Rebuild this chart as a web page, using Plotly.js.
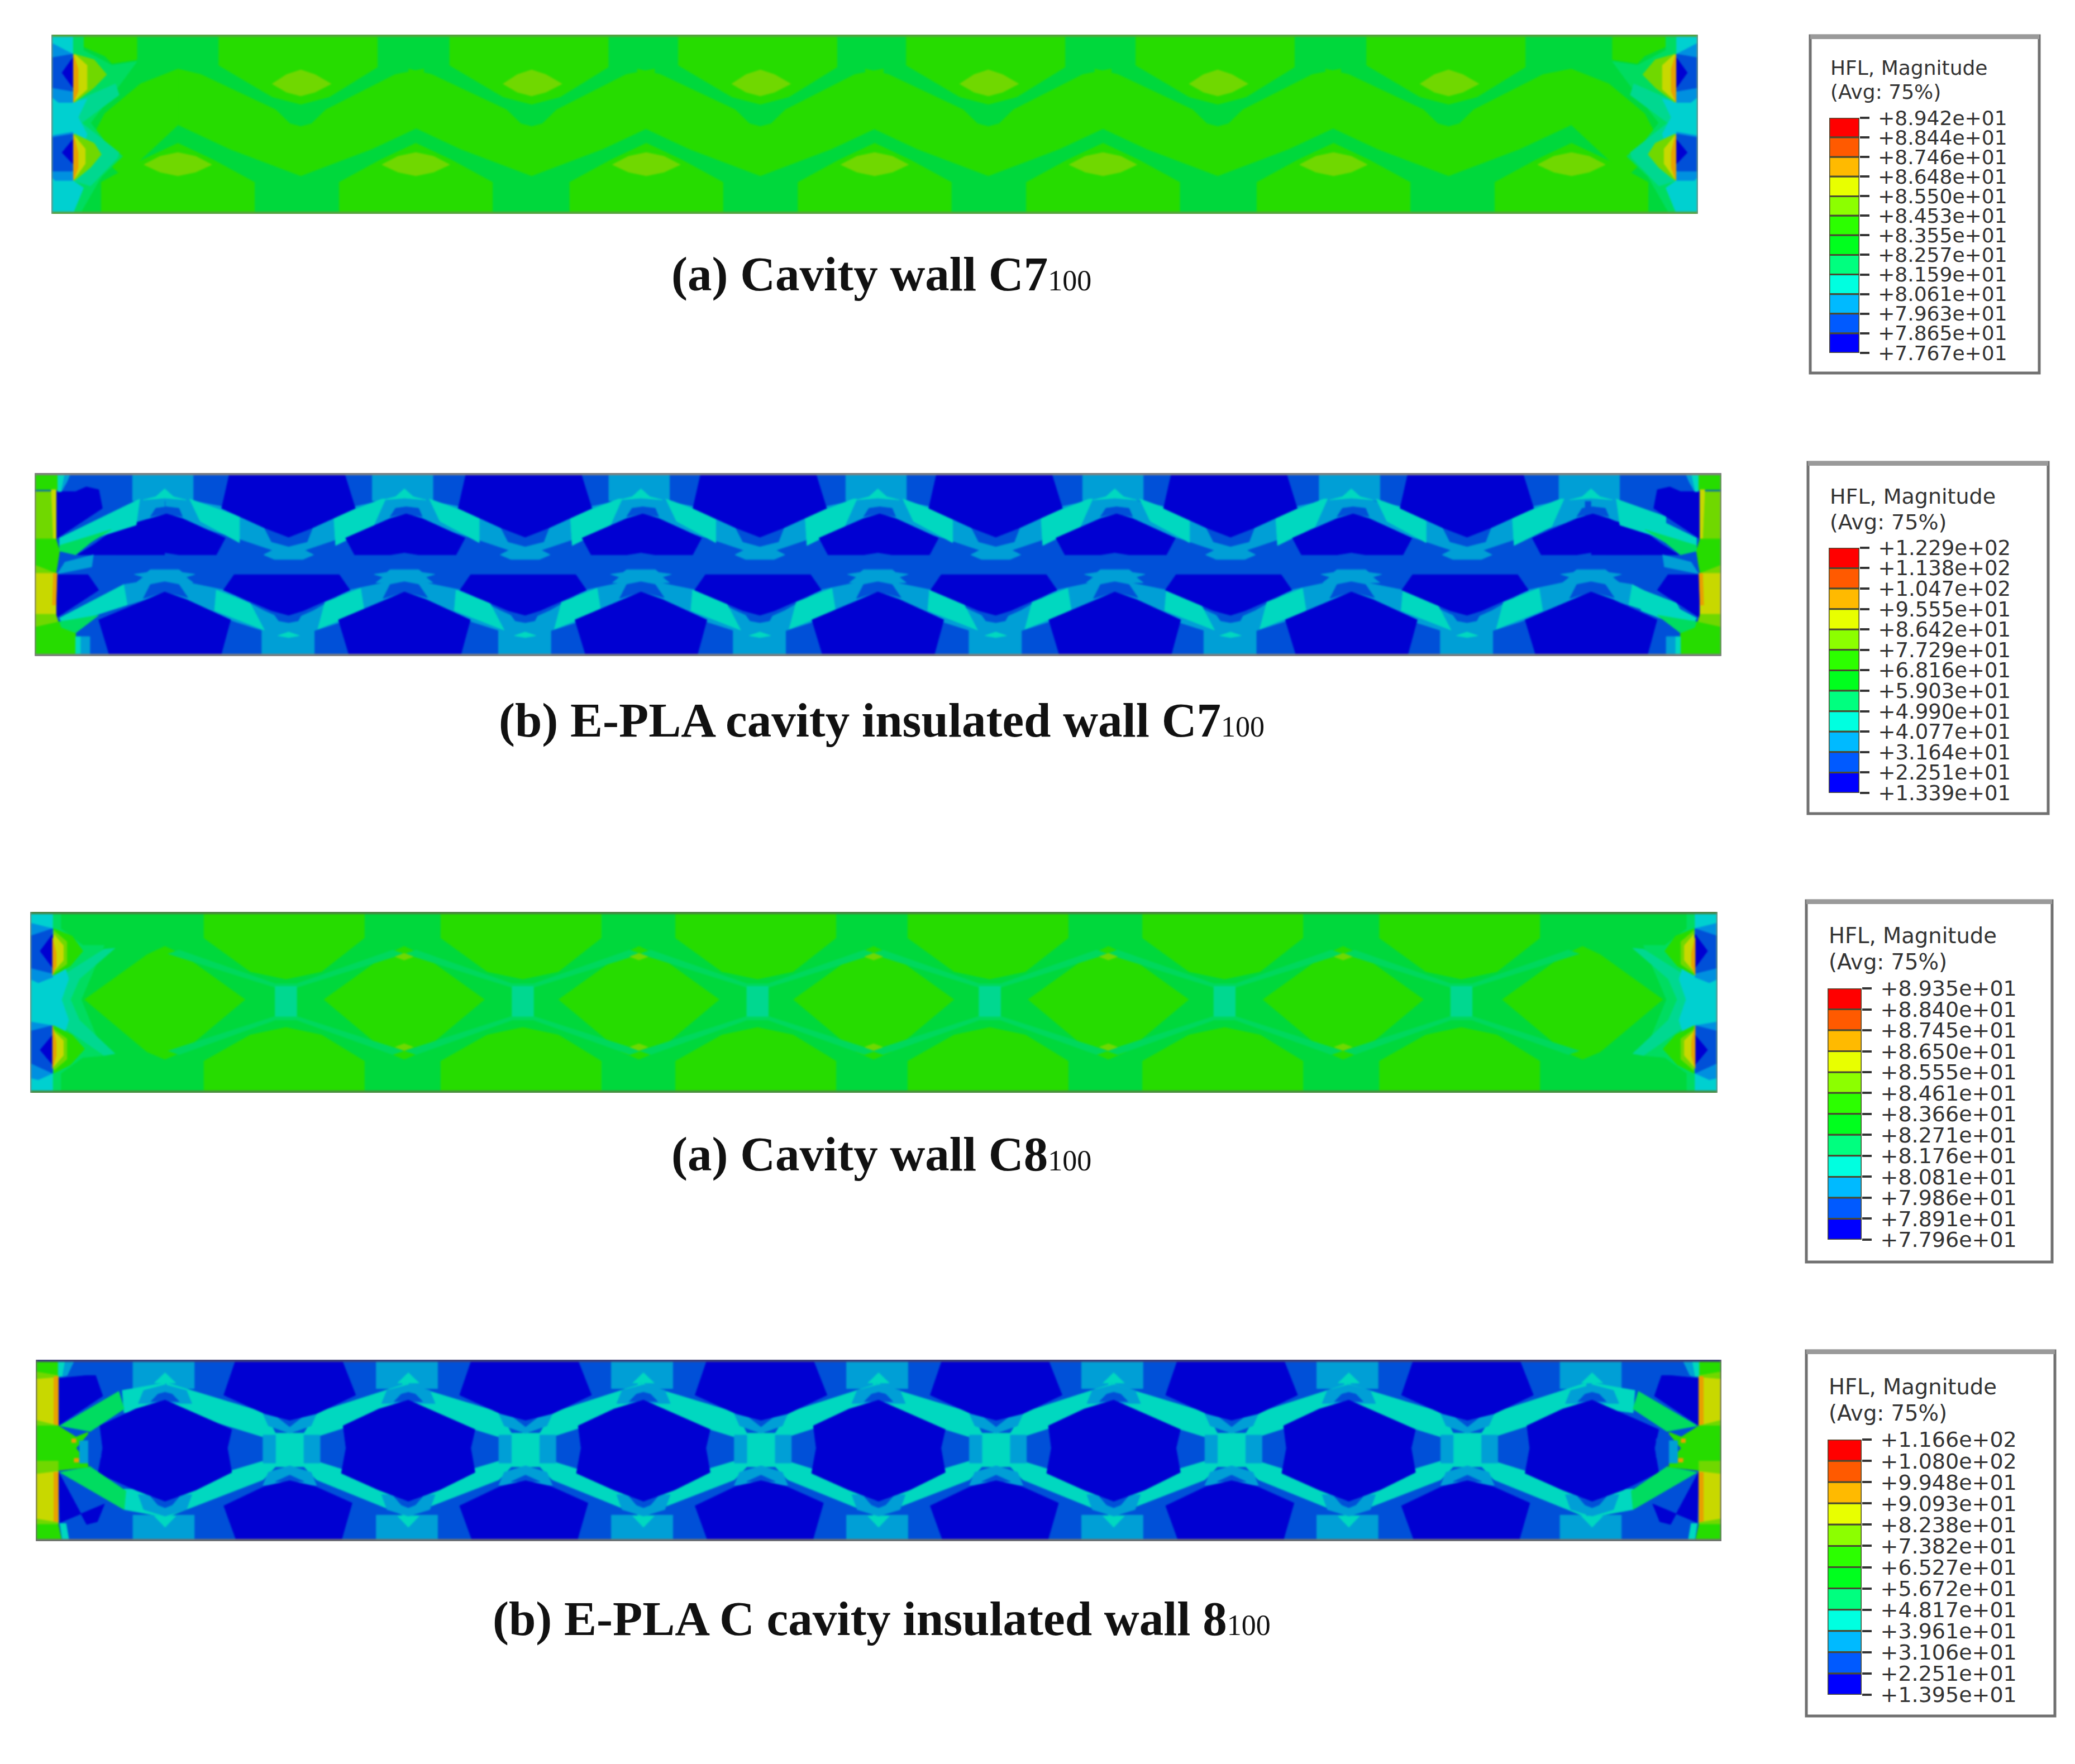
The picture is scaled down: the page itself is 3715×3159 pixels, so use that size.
<!DOCTYPE html>
<html><head><meta charset="utf-8">
<script src="https://cdn.plot.ly/plotly-3.0.1.min.js"></script>
<style>html,body{margin:0;padding:0;background:#fff}</style></head>
<body><div id="chart" style="width:3715px;height:3159px"></div>
<script>
// Band colours of the contour plots as seen in the picture
const colors={dark:'#0000d2',blue:'#0050d8',light:'#009fd6',teal:'#00d8c0',tg:'#00dc60',tc:'#00d890',g3:'#00d85c',g1:'#00d83c',g2:'#26dc00',
 lime:'#70d800',yel:'#c8d800',org:'#e8a000',red:'#e05000',cyan:'#00d0d0',sky:'#0090e0'};
const legendColors=['#ff0000','#ff5a00','#ffba00','#e8ff00','#8cff00','#2cff00','#00ff1e','#00ff7f','#00ffe0','#00baff','#005aff','#0000ff'];

// Legend labels
const labels1=['+8.942e+01','+8.844e+01','+8.746e+01','+8.648e+01','+8.550e+01','+8.453e+01','+8.355e+01','+8.257e+01','+8.159e+01','+8.061e+01','+7.963e+01','+7.865e+01','+7.767e+01'];
const labels2=['+1.229e+02','+1.138e+02','+1.047e+02','+9.555e+01','+8.642e+01','+7.729e+01','+6.816e+01','+5.903e+01','+4.990e+01','+4.077e+01','+3.164e+01','+2.251e+01','+1.339e+01'];
const labels3=['+8.935e+01','+8.840e+01','+8.745e+01','+8.650e+01','+8.555e+01','+8.461e+01','+8.366e+01','+8.271e+01','+8.176e+01','+8.081e+01','+7.986e+01','+7.891e+01','+7.796e+01'];
const labels4=['+1.166e+02','+1.080e+02','+9.948e+01','+9.093e+01','+8.238e+01','+7.382e+01','+6.527e+01','+5.672e+01','+4.817e+01','+3.961e+01','+3.106e+01','+2.251e+01','+1.395e+01'];

// Positions of the web crests and troughs in each wall (wall units)
const peaks1=[405,1073,1720,2361,3002,3649,4317], troughs1=[750,1398,2040,2680,3324,3972];
const peaks2=[400,1073,1737,2402,3067,3731,4404], troughs2=[748,1412,2071,2733,3392,4056];
const peaks3=[400,1072,1731,2390,3049,3708,4380], troughs3=[740,1405,2064,2716,3375,4040];
const peaks4=[400,1083,1743,2403,3063,3723,4406], troughs4=[750,1412,2073,2733,3394,4056];

// Contour regions: [band, anchor, xs, ys]; anchor p = at each crest, t = at each trough, q = inner crests, e = wall end (and its mirror), a = whole wall
const wall1=[
 ['g1','a',[50,4672,4672,50],[65,65,1030,1030]],
 ['g2','t',[-230,215,215,80,0,-80,-230],[65,65,240,400,440,400,230]],
 ['g2','t',[-345,-280,-70,-30,0,30,70,265,345,345,200,0,-200,-345],[250,280,470,545,560,545,470,280,250,550,680,825,680,550]],
 ['g2','p',[-215,215,215,100,0,-100,-215],[1030,1030,860,740,650,740,860]],
 ['g2','e',[406,300,200,170,190,250,406],[250,330,490,600,720,830,550]],
 ['g2','e',[140,290,290,220,200,140],[65,65,200,220,180,130]],
 ['lime','t',[-80,-40,0,40,85,40,0,-40],[330,280,255,280,330,375,395,375]],
 ['lime','p',[-95,-50,0,50,95,50,0,-50],[765,720,700,720,765,805,825,805]],
 ['tg','e',[110,140,140,220,290,240,200,160,200,250,190,130,110],[65,65,150,230,210,340,440,540,640,720,830,1030,1030]],
 ['tc','e',[110,230,240,135,240,235,160,110],[430,330,390,540,700,730,880,850]],
 ['cyan','e',[50,110,110,150,125,150,110,140,110,50],[65,65,430,410,510,600,850,890,1030,1030]],
 ['sky','e',[50,110,110,70,50],[110,170,430,430,400]],
 ['sky','e',[50,110,110,60,50],[610,590,850,850,830]],
 ['blue','e',[50,110,110,50],[190,170,370,350]],
 ['blue','e',[50,110,110,50],[620,600,800,800]],
 ['dark','e',[80,110,110],[270,190,350]],
 ['dark','e',[80,110,110],[700,630,760]],
 ['lime','e',[115,170,205,170,115],[170,200,280,350,430]],
 ['lime','e',[115,170,190,160,115],[600,650,710,780,850]],
 ['yel','e',[115,150,150,115],[170,230,360,420]],
 ['yel','e',[115,145,145,115],[610,680,760,840]],
 ['org','e',[112,125,125,112],[170,250,370,430]],
 ['org','e',[112,125,125,112],[600,700,780,850]]
];
const wall2=[
 ['blue','a',[35,4770,4770,35],[50,50,1035,1035]],
 ['light','p',[-90,80,80,-90],[55,55,200,200]],
 ['light','t',[-75,72,72,-75],[890,890,1030,1030]],
 ['light','t',[-345,-188,-68,0,68,187,330,330,130,45,70,40,-40,-70,-45,-130,-345],[172,230,340,440,340,230,172,285,410,465,490,515,515,490,465,410,285]],
 ['light','t',[-345,-180,-70,0,70,170,330,330,150,60,-60,-150,-345],[615,680,790,850,790,680,615,700,850,905,905,850,700]],
 ['light','p',[-85,-50,-40,40,50,85,60,80,-80,-60],[595,585,570,570,585,595,610,640,640,610]],
 ['light','e',[320,400,400,320],[200,172,285,330]],
 ['light','e',[285,400,400,295],[650,615,700,760]],
 ['teal','p',[70,210,210,100],[190,285,425,310]],
 ['teal','t',[127,262,272,237,132],[290,190,190,340,440]],
 ['teal','p',[145,240,280,140],[680,750,895,790]],
 ['teal','t',[102,202,212,82],[745,670,790,890]],
 ['teal','p',[-25,0,25,60,0,-60],[178,135,178,195,185,195]],
 ['teal','t',[-30,0,30,0],[925,905,925,935]],
 ['blue','t',[-68,-48,0,52,67,0],[345,420,445,420,345,395]],
 ['blue','t',[-48,-28,0,27,42,0],[790,845,855,845,790,815]],
 ['blue','p',[-40,-25,5,40,50,0],[285,240,232,240,285,270]],
 ['blue','p',[-60,-40,0,40,65,0],[725,650,635,650,720,690]],
 ['dark','t',[-166,157,187,67,0,-68,-188],[55,55,240,345,395,345,240]],
 ['dark','p',[-140,-165,-40,5,50,170,145,40,0,-40],[490,400,295,270,295,400,490,490,478,490]],
 ['dark','t',[-153,142,172,42,0,-48,-183],[597,597,680,790,815,790,680]],
 ['dark','p',[-155,158,185,60,0,-50,-185],[1030,1030,840,730,690,730,840]],
 ['dark','e',[95,95,225,215,180,150],[150,405,240,140,125,150]],
 ['dark','e',[155,205,260,350,400,400],[490,430,350,300,280,490]],
 ['dark','e',[95,185,215,95],[597,597,680,830]],
 ['teal','e',[105,320,330,320,105],[400,200,190,330,460]],
 ['teal','e',[105,285,295,115],[830,650,760,870]],
 ['g2','e',[35,100,100,35],[50,50,140,140]],
 ['teal','e',[100,120,110,100],[55,55,150,150]],
 ['light','e',[120,135,125,110],[55,55,100,150]],
 ['lime','e',[35,95,95,35],[150,150,405,405]],
 ['yel','e',[82,95,95,88],[140,140,405,405]],
 ['g2','e',[35,95,105,95,35],[405,405,470,590,545]],
 ['lime','e',[35,95,95,35],[545,590,590,590]],
 ['yel','e',[35,95,95,35],[590,590,830,810]],
 ['org','e',[88,98,95,85],[590,590,760,760]],
 ['lime','e',[35,95,105,35],[810,810,880,880]],
 ['g2','e',[35,105,150,150,130,35],[880,850,910,1035,1035,1035]],
 ['tg','e',[105,250,195,150,105],[440,355,420,490,470]],
 ['tg','e',[105,215,150,110],[850,815,910,880]],
 ['light','e',[100,120,200,195,105],[590,530,490,555,590]],
 ['teal','e',[150,165,165,150],[930,930,1030,1030]],
 ['light','e',[165,190,190,165],[930,930,1030,1030]]
];
const wall3=[
 ['g1','a',[22,4759,4759,22],[40,40,1010,1010]],
 ['g2','t',[-230,220,220,100,0,-100,-230],[40,40,180,360,400,360,180]],
 ['g2','t',[-230,220,220,100,0,-100,-230],[1010,1010,840,700,660,700,840]],
 ['g2','p',[-225,-50,0,50,225,50,0,-50],[510,270,225,270,510,790,830,790]],
 ['g3','t',[-30,30,300,330,30,30,330,300,30,-30,-300,-330,-30,-30,-330,-300],[425,425,245,265,445,600,785,805,620,620,805,785,600,445,265,245]],
 ['lime','q',[-25,0,25,0],[280,262,280,298]],
 ['lime','q',[-25,0,25,0],[765,747,765,783]],
 ['tc','t',[-30,30,30,-30],[440,440,600,600]],
 ['tg','e',[85,108,108,170,230,165,230,170,108,108,85],[40,40,130,220,220,510,810,820,905,1010,1010]],
 ['tc','e',[110,230,260,160,135,160,260,230,110],[385,240,235,400,510,620,800,810,650]],
 ['cyan','e',[22,85,85,130,110,130,85,85,22],[40,40,130,400,510,620,905,1010,1010]],
 ['sky','e',[22,85,85,45,22],[100,130,390,420,400]],
 ['sky','e',[22,85,85,45,22],[630,650,905,940,930]],
 ['blue','e',[22,85,85,22],[170,130,370,340]],
 ['blue','e',[22,85,85,22],[680,650,905,850]],
 ['dark','e',[50,85,85],[250,160,340]],
 ['dark','e',[50,85,85],[780,700,860]],
 ['g2','e',[88,140,170,135,88],[130,170,250,330,380]],
 ['g2','e',[88,140,175,135,88],[650,700,775,860,905]],
 ['lime','e',[88,125,125,88],[140,200,320,370]],
 ['lime','e',[88,125,125,88],[670,720,830,890]],
 ['yel','e',[88,115,115,88],[160,220,300,360]],
 ['yel','e',[88,115,115,88],[680,730,810,870]],
 ['org','e',[85,95,95,85],[180,260,330,380]],
 ['org','e',[85,95,95,85],[650,740,810,880]]
];
const wall4=[
 ['blue','a',[37,4769,4769,37],[45,45,1020,1020]],
 ['light','p',[-90,82,82,-90],[50,50,200,200]],
 ['light','p',[-90,82,82,-90],[880,880,1015,1015]],
 ['teal','t',[-345,-70,-40,40,75,333,333,40,40,333,333,75,40,-40,-75,-345,-345,-40,-40,-345],[170,330,440,440,330,170,300,480,570,745,890,690,620,620,690,890,745,570,480,300]],
 ['teal','p',[-30,0,30],[170,115,170]],
 ['teal','p',[-30,0,30],[885,945,885]],
 ['teal','e',[280,400,400,285],[210,170,300,330]],
 ['teal','e',[285,400,400,285],[740,745,890,850]],
 ['light','p',[-75,-60,0,60,75],[280,210,180,210,280]],
 ['light','p',[-75,-60,0,60,75],[770,850,885,850,770]],
 ['light','t',[-75,-60,0,60,75],[335,400,440,400,335]],
 ['light','t',[-75,-60,0,60,75],[720,650,615,650,720]],
 ['light','t',[-75,-40,-40,-75],[450,450,600,600]],
 ['light','t',[40,85,85,40],[450,450,600,600]],
 ['blue','p',[-40,-20,0,20,40],[270,230,220,230,270]],
 ['blue','p',[-40,-20,0,20,40],[780,825,840,825,780]],
 ['blue','t',[-40,0,40],[345,405,345]],
 ['blue','t',[-40,0,40],[700,665,700]],
 ['dark','t',[-152,147,185,75,0,-70,-185],[50,50,235,335,370,335,235]],
 ['dark','p',[0,187,175,187,87,0,-83,-188,-175,-183,-83],[262,420,520,650,745,805,745,655,520,400,310]],
 ['dark','t',[-150,145,175,70,0,-70,-185],[1015,1015,815,725,695,725,830]],
 ['dark','e',[100,100,225,205,180],[145,400,240,130,130]],
 ['dark','e',[100,105,230,210,180],[645,920,820,915,930]],
 ['tg','e',[105,270,285,190],[400,215,310,430]],
 ['tg','e',[105,190,290,285],[650,620,750,850]],
 ['g2','e',[37,100,100,37],[50,50,130,130]],
 ['teal','e',[100,120,112,100],[50,50,135,135]],
 ['light','e',[120,145,125,112],[50,50,130,135]],
 ['lime','e',[37,100,100,37],[110,130,150,160]],
 ['yel','e',[37,100,100,37],[150,140,400,380]],
 ['org','e',[88,100,100,88],[135,135,400,400]],
 ['lime','e',[37,100,100,37],[370,400,470,470]],
 ['g2','e',[37,100,150,190,150,190,100,37],[400,400,460,430,520,620,640,650]],
 ['lime','e',[37,100,100,37],[590,590,650,680]],
 ['yel','e',[37,100,100,37],[660,645,920,900]],
 ['org','e',[88,100,100,88],[650,650,920,920]],
 ['lime','e',[37,100,100,37],[900,920,960,940]],
 ['g2','e',[37,100,110,37],[930,930,1020,1020]],
 ['teal','e',[105,122,130,112],[925,925,1015,1015]],
 ['org','e',[138,150,150,138],[470,470,490,490]],
 ['org','e',[145,158,158,145],[575,575,595,595]],
 ['light','e',[160,185,185,160],[480,480,600,600]],
 ['blue','e',[185,220,220,185],[430,470,570,620]]
];

const captions=['(a) Cavity wall C7','(b) E-PLA cavity insulated wall C7','(a) Cavity wall C8','(b) E-PLA C cavity insulated wall 8'];
const captionSub=['100','100','100','100'];
const legendTitle1='HFL, Magnitude', legendTitle2='(Avg: 75%)';

const W=3715,H=3159;
const fx=x=>x/W, fy=y=>1-y/H;
const traces=[], annotations=[], shapes=[];
const layout={width:W,height:H,margin:{l:0,r:0,t:0,b:0},paper_bgcolor:'#fff',plot_bgcolor:'rgba(0,0,0,0)',showlegend:false,barmode:'overlay',hovermode:false};

const panels=[
 {s:wall1,p:peaks1,t:troughs1,xr:[50,4672],yr:[1030,65],px:[92,3040],py:[62,383],top:'#58a040',bot:'#58a040',left:'#709080'},
 {s:wall2,p:peaks2,t:troughs2,xr:[35,4770],yr:[1035,50],px:[62,3082],py:[847,1175],top:'#808080',bot:'#808080',left:'#808080'},
 {s:wall3,p:peaks3,t:troughs3,xr:[22,4759],yr:[1010,40],px:[54,3075],py:[1633,1957],top:'#4a8040',bot:'#4a8a40',left:'#709080'},
 {s:wall4,p:peaks4,t:troughs4,xr:[37,4769],yr:[1020,45],px:[64,3082],py:[2435,2760],top:'#404078',bot:'#707070',left:'#707070'}
];
panels.forEach((P,i)=>{
 const n=i+1, xa=n===1?'x':'x'+n, ya=n===1?'y':'y'+n;
 layout[n===1?'xaxis':'xaxis'+n]={domain:[fx(P.px[0]),fx(P.px[1])],range:P.xr,visible:false,anchor:ya,fixedrange:true};
 layout[n===1?'yaxis':'yaxis'+n]={domain:[fy(P.py[1]),fy(P.py[0])],range:P.yr,visible:false,anchor:xa,fixedrange:true};
 const mid=P.xr[0]+P.xr[1];
 P.s.forEach(([c,a,xs,ys])=>{
  let X=[],Y=[];
  const add=(mx,my)=>{X=X.concat(mx,[mx[0]],[null]);Y=Y.concat(my,[my[0]],[null]);};
  if(a==='a'||a==='e') add(xs,ys);
  if(a==='e') add(xs.map(v=>mid-v),ys);
  const anch=a==='p'?P.p:a==='t'?P.t:a==='q'?P.p.slice(1,-1):[];
  anch.forEach(o=>add(xs.map(v=>v+o),ys));
  traces.push({type:'scatter',mode:'lines',x:X,y:Y,xaxis:xa,yaxis:ya,fill:'toself',fillcolor:colors[c],line:{color:colors[c],width:1},hoverinfo:'skip',connectgaps:false});
 });
 const edge=(x,y,col,w)=>traces.push({type:'scatter',mode:'lines',x,y,xaxis:xa,yaxis:ya,line:{color:col,width:w},hoverinfo:'skip',cliponaxis:false});
 edge(P.xr,[P.yr[1],P.yr[1]],P.top,8);
 edge(P.xr,[P.yr[0],P.yr[0]],P.bot,8);
 edge([P.xr[0],P.xr[0]],P.yr,P.left,4);
 edge([P.xr[1],P.xr[1]],P.yr,P.left,4);
});

const legends=[
 {l:labels1,box:[3241,3651,64,668],bar:[3275,3329,211,632],t:[122,165],fs:36,ts:36},
 {l:labels2,box:[3237,3667,828,1457],bar:[3274,3329,981,1420],t:[889,935],fs:37,ts:38},
 {l:labels3,box:[3234,3674,1613,2260],bar:[3272,3333,1770,2220],t:[1675,1722],fs:38,ts:38.5},
 {l:labels4,box:[3234,3679,2419,3073],bar:[3272,3333,2578,3035],t:[2483,2530],fs:38,ts:38.5}
];
legends.forEach((L,i)=>{
 const n=i+5, xa='x'+n, ya='y'+n;
 const lv=L.l.map(Number), lo=lv[lv.length-1], hi=lv[0];
 const idx=legendColors.map((c,k)=>k);
 traces.push({type:'bar',xaxis:xa,yaxis:ya,x:idx.map(()=>0),width:idx.map(()=>1),base:idx.map(k=>lv[k+1]),y:idx.map(k=>lv[k]-lv[k+1]),
  marker:{color:legendColors,line:{color:'#4a4a30',width:3}},hoverinfo:'skip'});
 layout['xaxis'+n]={domain:[fx(L.bar[0]),fx(L.bar[1])],range:[-.5,.5],visible:false,anchor:ya,fixedrange:true};
 layout['yaxis'+n]={domain:[fy(L.bar[3]),fy(L.bar[2])],range:[lo,hi],anchor:xa,side:'right',showgrid:false,zeroline:false,showline:false,fixedrange:true,
  tickmode:'array',tickvals:lv,ticktext:L.l,ticks:'outside',ticklen:17,tickwidth:4,tickcolor:'#333',ticklabelstandoff:8,
  tickfont:{family:'DejaVu Sans',size:L.fs,color:'#333'}};
 shapes.push({type:'rect',xref:'paper',yref:'paper',x0:fx(L.box[0]),x1:fx(L.box[1]),y0:fy(L.box[3]),y1:fy(L.box[2]),line:{color:'#707070',width:5},fillcolor:'rgba(0,0,0,0)'});
 shapes.push({type:'line',xref:'paper',yref:'paper',x0:fx(L.box[0]),x1:fx(L.box[1]),y0:fy(L.box[2]+2),y1:fy(L.box[2]+2),line:{color:'#9a9a9a',width:8}});
 [legendTitle1,legendTitle2].forEach((t,k)=>annotations.push({xref:'paper',yref:'paper',x:fx(L.bar[0]),y:fy(L.t[k]),xanchor:'left',yanchor:'middle',showarrow:false,text:t,
  font:{family:'DejaVu Sans',size:L.ts,color:'#333'}}));
});

const capY=[491,1289,2066,2898];
captions.forEach((c,i)=>annotations.push({xref:'paper',yref:'paper',x:fx(1578),y:fy(capY[i]),xanchor:'center',yanchor:'middle',showarrow:false,
 text:'<b>'+c+'</b><span style="font-size:52px">'+captionSub[i]+'</span>',font:{family:'Liberation Serif',size:87,color:'#111'}}));

layout.annotations=annotations; layout.shapes=shapes;
Plotly.newPlot('chart',traces,layout,{staticPlot:true,displayModeBar:false}).then(()=>{
 document.querySelectorAll('.scatterlayer').forEach(e=>{e.style.filter='blur(1.5px)';});
});
</script></body></html>
